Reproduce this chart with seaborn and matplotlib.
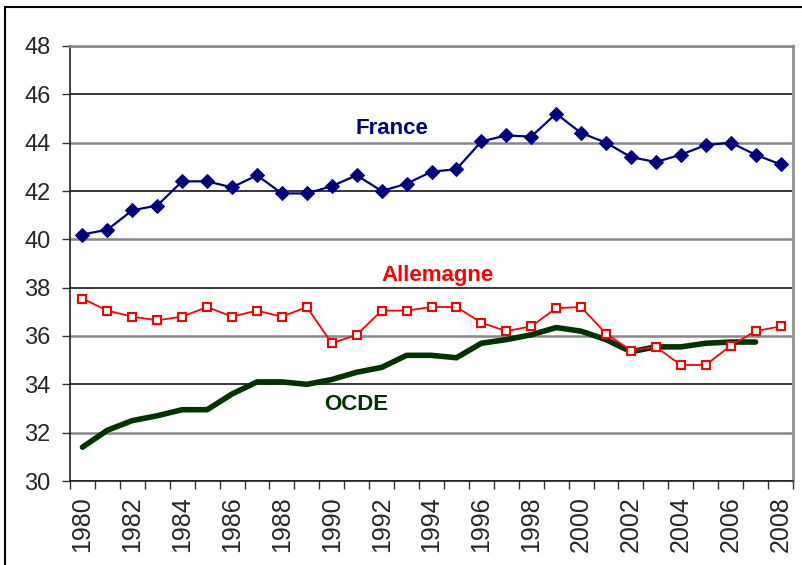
import numpy as np
import pandas as pd
import seaborn as sns
import matplotlib
matplotlib.use("Agg")
import matplotlib.pyplot as plt
from matplotlib.lines import Line2D
from matplotlib.ticker import MultipleLocator

# values
years = list(range(1980, 2009))
france = [40.2, 40.4, 41.2, 41.4, 42.4, 42.4, 42.15, 42.65, 41.9, 41.9,
          42.2, 42.65, 42.0, 42.3, 42.8, 42.9, 44.05, 44.3, 44.25, 45.2,
          44.4, 44.0, 43.4, 43.2, 43.5, 43.9, 44.0, 43.5, 43.1]
allemagne = [37.55, 37.05, 36.8, 36.65, 36.8, 37.2, 36.8, 37.05, 36.8, 37.2,
             35.7, 36.05, 37.05, 37.05, 37.2, 37.2, 36.55, 36.2, 36.4, 37.15,
             37.2, 36.1, 35.4, 35.55, 34.8, 34.8, 35.6, 36.2, 36.4]
ocde = [31.4, 32.1, 32.5, 32.7, 32.95, 32.95, 33.6, 34.1, 34.1, 34.0,
        34.2, 34.5, 34.7, 35.2, 35.2, 35.1, 35.7, 35.85, 36.05, 36.35,
        36.2, 35.85, 35.35, 35.55, 35.55, 35.7, 35.75, 35.75, np.nan]

df = pd.DataFrame({"annee": years, "France": france,
                   "Allemagne": allemagne, "OCDE": ocde})

sns.set_style("white")
plt.rcParams["font.family"] = ["Liberation Sans", "DejaVu Sans"]

fig = plt.figure(figsize=(8.03, 5.65), dpi=100)
ax = fig.add_axes([70 / 803, 1 - 481 / 565, 723 / 803, 435 / 565])

sns.lineplot(data=df, x="annee", y="OCDE", ax=ax, color="#003300",
             linewidth=4, zorder=3)
sns.lineplot(data=df, x="annee", y="Allemagne", ax=ax, color="#ff0000",
             linewidth=1.3, marker="s", markersize=6, markerfacecolor="white",
             markeredgecolor="#ff0000", markeredgewidth=1.5, zorder=4)
sns.lineplot(data=df, x="annee", y="France", ax=ax, color="#000080",
             linewidth=1.6, marker="D", markersize=7.5, markeredgecolor="#000080",
             zorder=5)

ax.set_xlim(1979.5, 2008.5)
ax.set_ylim(30, 48)
ax.set_xlabel("")
ax.set_ylabel("")

ax.yaxis.set_major_locator(MultipleLocator(2))
ax.yaxis.grid(True, linewidth=1.2)
for i, gl in enumerate(ax.get_ygridlines()):
    gl.set_color("#888888" if i % 2 == 0 else "#000000")
    gl.set_linewidth(1.8 if i % 2 == 0 else 1.1)

ax.set_xticks(years[::2])
ax.set_xticklabels([str(y) for y in years[::2]], rotation=90)
ax.set_xticks(np.arange(1979.5, 2009, 1), minor=True)
ax.tick_params(axis="x", which="major", length=0, pad=11, labelsize=18)
ax.tick_params(axis="x", which="minor", length=6, width=1, color="#333333",
               direction="out", bottom=True)
ax.tick_params(axis="y", length=6, width=1, color="#333333", pad=8,
               labelsize=17, left=True)

for s in ["left", "bottom"]:
    ax.spines[s].set_color("#222222")
    ax.spines[s].set_linewidth(1.2)
ax.spines["right"].set_color("#999999")
ax.spines["right"].set_linewidth(2.2)
ax.spines["top"].set_color("#888888")
ax.spines["top"].set_linewidth(1.8)

# series labels placed in pixel positions of the original (top-left origin)
labels = [("France", 392, 129, "#000080"),
          ("Allemagne", 438, 276, "#ff0000"),
          ("OCDE", 356, 404, "#003300")]
for txt, px, py, col in labels:
    ax.text(px / 803, 1 - py / 565, txt, color=col, fontsize=16,
            fontweight="bold", ha="center", va="center",
            transform=fig.transFigure)

# outer frame (left and top edges)
fx, fy = 5 / 803, 1 - 7 / 565
fig.add_artist(Line2D([fx, fx], [0, fy], color="black", linewidth=1.5))
fig.add_artist(Line2D([fx, 1], [fy, fy], color="black", linewidth=1.5))

fig.savefig("out.png", dpi=100)
